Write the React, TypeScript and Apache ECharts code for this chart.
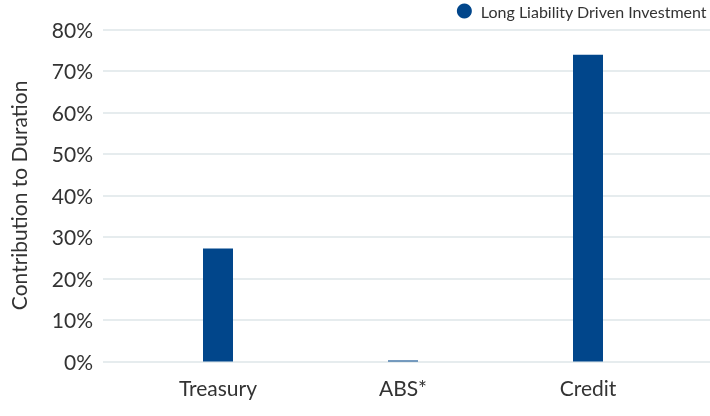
import React, { useEffect, useRef } from "react";
import * as echarts from "echarts";

const categories = ["Treasury", "ABS*", "Credit"];
const seriesName = "Long Liability Driven Investment";
const values = [27.2, 0.25, 73.9];
const yTicks = [0, 10, 20, 30, 40, 50, 60, 70, 80];

const FONT = "Lato, 'Noto Sans', sans-serif";

export default function App() {
  const ref = useRef<HTMLDivElement>(null);
  useEffect(() => {
    document.body.style.margin = "0";
    const chart = echarts.init(ref.current!, null, { renderer: "svg" });
    const yMin = yTicks[0];
    const yMax = yTicks[yTicks.length - 1];
    const common = { top: 29.3, bottom: 54.5 };
    chart.setOption({
      animation: false,
      textStyle: { fontFamily: FONT },
      legend: {
        data: [{ name: seriesName, icon: "circle" }],
        right: 3,
        top: 3,
        padding: 0,
        itemWidth: 23,
        itemHeight: 15,
        itemGap: 8,
        textStyle: { fontFamily: FONT, fontSize: 16, color: "#333333" },
      },
      grid: [
        { left: 96, right: 0, ...common },
        { left: 125.5, right: 29.5, ...common },
      ],
      xAxis: [
        { type: "category", gridIndex: 0, show: false, data: [""] },
        {
          type: "category",
          gridIndex: 1,
          data: categories,
          axisLine: { show: false },
          axisTick: { show: false },
          axisLabel: {
            fontFamily: FONT,
            fontSize: 21,
            color: "#333333",
            margin: 15,
          },
        },
      ],
      yAxis: [
        {
          type: "value",
          gridIndex: 0,
          min: yMin,
          max: yMax,
          interval: 10,
          name: "Contribution to Duration",
          nameLocation: "middle",
          nameGap: 74,
          nameTextStyle: { fontFamily: FONT, fontSize: 21, color: "#333333" },
          axisLine: { show: false },
          axisTick: { show: false },
          axisLabel: {
            fontFamily: FONT,
            fontSize: 21,
            color: "#333333",
            margin: 10,
            formatter: "{value}%",
          },
          splitLine: { lineStyle: { color: "#e6ecee", width: 2 } },
        },
        {
          type: "value",
          gridIndex: 1,
          min: yMin,
          max: yMax,
          interval: 10,
          show: false,
          splitLine: { show: false },
        },
      ],
      series: [
        {
          name: seriesName,
          type: "bar",
          xAxisIndex: 1,
          yAxisIndex: 1,
          data: values,
          barWidth: 30,
          itemStyle: { color: "#01468b" },
        },
      ],
    });
    return () => chart.dispose();
  }, []);
  return (
    <div
      ref={ref}
      style={{ position: "fixed", left: 0, top: 0, width: 710, height: 416 }}
    />
  );
}
